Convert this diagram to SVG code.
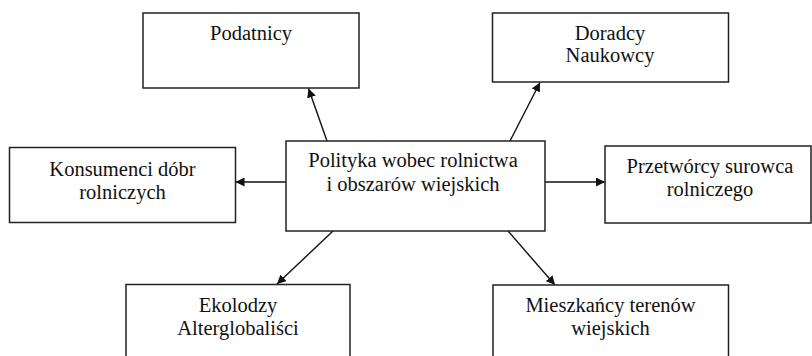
<svg xmlns="http://www.w3.org/2000/svg" width="812" height="356" viewBox="0 0 812 356">
<defs>
<style>
.box{fill:#fff;stroke:#222;stroke-width:1.5}
.t{font-family:"Liberation Serif","DejaVu Serif",Times,serif;font-size:20.5px;fill:#111;text-anchor:middle}
.c{stroke:#111;stroke-width:1.4;fill:none;marker-end:url(#ah)}
</style>
<marker id="ah" viewBox="0 0 10 10" refX="10" refY="5" markerWidth="9" markerHeight="9" markerUnits="userSpaceOnUse" orient="auto">
<path d="M0,0 L10,5 L0,10 z" fill="#111"/>
</marker>
</defs>
<rect width="812" height="356" fill="#fff"/>
<g id="connectors">
<line class="c" x1="327" y1="141" x2="308.5" y2="88.5"/>
<line class="c" x1="510" y1="141" x2="540" y2="82.5"/>
<line class="c" x1="286" y1="182" x2="235.5" y2="182"/>
<line class="c" x1="545" y1="182" x2="605" y2="182"/>
<line class="c" x1="333" y1="231" x2="277" y2="284"/>
<line class="c" x1="508" y1="231" x2="555" y2="285"/>
</g>
<g id="podatnicy">
<rect class="box" x="143" y="13" width="216" height="75"/>
<text class="t" x="251" y="40">Podatnicy</text>
</g>
<g id="doradcy">
<rect class="box" x="492.5" y="13" width="236" height="69"/>
<text class="t" x="610" y="40">Doradcy</text>
<text class="t" x="610" y="62">Naukowcy</text>
</g>
<g id="konsumenci">
<rect class="box" x="9.5" y="147.5" width="226" height="75"/>
<text class="t" x="122.5" y="176">Konsumenci dóbr</text>
<text class="t" x="122.5" y="198.5">rolniczych</text>
</g>
<g id="polityka">
<rect class="box" x="286" y="141" width="259" height="90"/>
<text class="t" x="413" y="167">Polityka  wobec rolnictwa</text>
<text class="t" x="413" y="191">i obszarów wiejskich</text>
</g>
<g id="przetworcy">
<rect class="box" x="605" y="146" width="206" height="77"/>
<text class="t" x="710" y="173">Przetwórcy surowca</text>
<text class="t" x="710" y="196">rolniczego</text>
</g>
<g id="ekolodzy">
<rect class="box" x="126" y="284.5" width="224" height="90"/>
<text class="t" x="238" y="312">Ekolodzy</text>
<text class="t" x="238" y="335">Alterglobaliści</text>
</g>
<g id="mieszkancy">
<rect class="box" x="493" y="285" width="235.5" height="90"/>
<text class="t" x="610.5" y="312">Mieszkańcy  terenów</text>
<text class="t" x="610.5" y="335">wiejskich</text>
</g>
</svg>
